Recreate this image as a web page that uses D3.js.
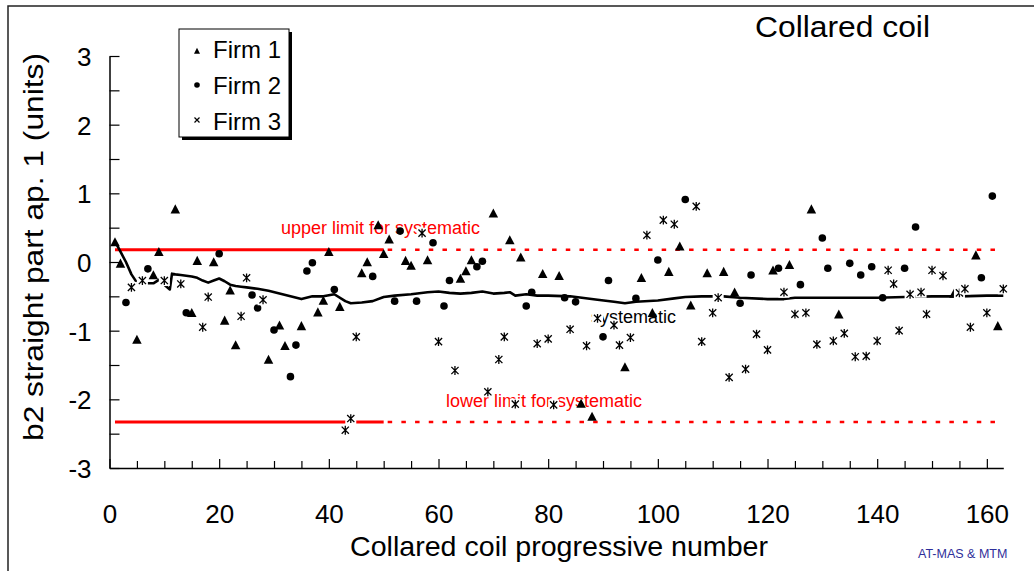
<!DOCTYPE html>
<html><head><meta charset="utf-8">
<script src="https://cdn.jsdelivr.net/npm/d3@7/dist/d3.min.js"></script>
<style>
html,body{margin:0;padding:0;background:#fff;}
svg{display:block;font-family:"Liberation Sans",Arial,sans-serif;}
</style></head>
<body><svg id="c" width="1034" height="571"></svg>
<script>
// ---- data ----
const firm1Coils = [1,2,5,8,9,12,15,16,19,21,22,23,29,31,32,35,38,39,40,42,46,47,49,50,51,54,55,58,64,65,66,70,73,75,79,82,86,88,94,97,99,102,104,106,109,112,114,121,124,128,133,154,158,162];
const firm1Values = [0.29,-0.02,-1.13,-0.19,0.15,0.77,-0.74,0.02,0.0,-0.85,-0.41,-1.21,-1.42,-0.92,-1.22,-0.93,-0.73,-0.56,0.15,-0.65,-0.16,0.0,0.54,0.12,0.33,0.02,-0.05,0.03,-0.24,-0.13,0.03,0.71,0.32,0.07,-0.17,-0.2,-2.06,-2.25,-1.53,-0.23,-0.74,-0.14,0.23,-0.63,-0.16,-0.14,-0.44,-0.12,-0.04,0.77,-0.76,-0.46,0.1,-0.93];
const firm2Coils = [3,7,14,20,26,27,30,33,34,36,37,41,48,52,53,56,59,61,62,67,68,76,77,83,85,90,91,96,100,105,115,117,122,126,130,131,135,137,139,141,145,147,159,161];
const firm2Values = [-0.59,-0.1,-0.74,0.12,-0.48,-0.67,-0.99,-1.67,-1.21,-0.13,-0.01,-0.4,-0.21,-0.57,0.45,-0.57,0.28,-0.64,-0.27,-0.07,0.01,-0.64,-0.44,-0.52,-0.58,-1.09,-0.27,-0.53,0.03,0.91,-0.6,-0.19,-0.09,-0.33,0.35,-0.09,-0.02,-0.19,-0.07,-0.52,-0.09,0.51,-0.23,0.96];
const firm3Coils = [4,6,10,13,17,18,24,25,28,43,44,45,57,60,63,69,71,72,74,78,80,81,84,87,89,92,93,95,98,101,103,107,108,110,111,113,116,118,120,123,125,127,129,132,134,136,138,140,142,143,144,146,148,149,150,152,155,156,157,160,163];
const firm3Values = [-0.37,-0.27,-0.27,-0.32,-0.95,-0.51,-0.79,-0.23,-0.55,-2.45,-2.28,-1.09,0.42,-1.16,-1.58,-1.89,-1.42,-1.09,-2.07,-1.19,-1.12,-2.08,-0.98,-1.22,-0.82,-0.92,-1.21,-1.1,0.39,0.61,0.55,0.81,-1.16,-0.74,-0.52,-1.68,-1.56,-1.05,-1.28,-0.44,-0.76,-0.74,-1.2,-1.15,-1.04,-1.38,-1.37,-1.15,-0.12,-0.32,-1.0,-0.47,-0.44,-0.76,-0.12,-0.2,-0.45,-0.39,-0.95,-0.74,-0.39];
const systematicX = [1,2,3,4,5,6,7,8,9,10,11,11.4,12,13,14,15,16,17,18,19,20,21,22,23,24,25,27,29,31,33,35,37,39,41,43,44,46,48,50,52,55,58,60,62,64,66,68,70,72,73,74,76,78,80,84,89,92,94,96,100,103,105,108,110,112,115,120,123,125,130,135,140,145,150,155,160,163];
const systematicY = [0.3,0.15,0.0,-0.18,-0.3,-0.31,-0.31,-0.31,-0.26,-0.33,-0.4,-0.17,-0.18,-0.19,-0.2,-0.21,-0.23,-0.27,-0.3,-0.27,-0.24,-0.28,-0.33,-0.35,-0.36,-0.37,-0.39,-0.42,-0.46,-0.5,-0.54,-0.5,-0.5,-0.47,-0.57,-0.6,-0.59,-0.57,-0.51,-0.49,-0.47,-0.44,-0.43,-0.45,-0.46,-0.45,-0.43,-0.46,-0.45,-0.44,-0.49,-0.47,-0.49,-0.49,-0.5,-0.55,-0.58,-0.6,-0.58,-0.56,-0.53,-0.51,-0.5,-0.5,-0.5,-0.52,-0.54,-0.54,-0.52,-0.52,-0.52,-0.52,-0.51,-0.5,-0.5,-0.49,-0.49];
const upperLimit = 0.18, lowerLimit = -2.33;
const solidRange = [1, 50], dashedRange = [50, 163];
const xTicks = [0,20,40,60,80,100,120,140,160];
const yTicks = [-3,-2,-1,0,1,2,3];
const seriesNames = ["Firm 1","Firm 2","Firm 3"];

// ---- chart ----
const svg = d3.select("#c");
const x = d3.scaleLinear().domain([0,163]).range([109.5,1003.3]);
const y = d3.scaleLinear().domain([-3,3]).range([468,56]);
const font = '"Liberation Sans",Arial,sans-serif';

// outer frame
svg.append("path").attr("d","M8,580 L8,6 L1040,6").attr("fill","none").attr("stroke","#222").attr("stroke-width",1.5);

// axes
const gx = svg.append("g").attr("transform","translate(0,468)");
gx.call(d3.axisBottom(x).tickValues(d3.range(0,161,5)).tickSize(0).tickFormat(""));
gx.select(".domain").attr("stroke","#000").attr("stroke-width",1.5);
gx.selectAll(".tick line").remove();
gx.selectAll(".tick").append("line").attr("y1",0).attr("y2",d=>d%20===0?-9:-7).attr("stroke","#000").attr("stroke-width",1.2);
gx.selectAll(".tick").filter(d=>xTicks.includes(d)).append("text")
  .attr("y",55).attr("fill","#000").attr("font-size",26).attr("font-family",font).attr("text-anchor","middle").text(d=>d);

const gy = svg.append("g").attr("transform","translate(109.5,0)");
gy.call(d3.axisLeft(y).tickValues(d3.range(-3,3.01,0.5)).tickSize(0).tickFormat(""));
gy.select(".domain").attr("stroke","#000").attr("stroke-width",1.5);
gy.selectAll(".tick line").remove();
gy.selectAll(".tick").append("line").attr("x1",0).attr("x2",10).attr("stroke","#000").attr("stroke-width",1.2);
gy.selectAll(".tick").filter(d=>yTicks.includes(d)).append("text")
  .attr("x",-18).attr("dy","0.36em").attr("fill","#000").attr("font-size",26).attr("font-family",font).attr("text-anchor","end").text(d=>d);

// titles
svg.append("text").attr("x",350).attr("y",556).attr("font-size",27.5).attr("textLength",418).attr("lengthAdjust","spacingAndGlyphs").attr("fill","#000").text("Collared coil progressive number");
svg.append("text").attr("transform","translate(43,441) rotate(-90)").attr("font-size",27).attr("textLength",388).attr("lengthAdjust","spacingAndGlyphs").attr("fill","#000").text("b2 straight part ap. 1 (units)");
svg.append("text").attr("x",755).attr("y",37).attr("font-size",30).attr("textLength",175).attr("lengthAdjust","spacingAndGlyphs").attr("fill","#000").text("Collared coil");
svg.append("text").attr("x",918).attr("y",558).attr("font-size",12.5).attr("fill","#2e2e9a").text("AT-MAS & MTM");

// limit lines
const red = "#ff0000";
[upperLimit, lowerLimit].forEach(v=>{
  svg.append("line").attr("x1",x(solidRange[0])).attr("x2",x(solidRange[1])).attr("y1",y(v)).attr("y2",y(v)).attr("stroke",red).attr("stroke-width",3);
  svg.append("line").attr("x1",x(dashedRange[0])).attr("x2",x(dashedRange[1])).attr("y1",y(v)).attr("y2",y(v)).attr("stroke",red).attr("stroke-width",2.5).attr("stroke-dasharray","4.5,9.2").attr("stroke-dashoffset",-4);
});
svg.append("text").attr("x",281).attr("y",234).attr("font-size",18).attr("fill",red).text("upper limit for systematic");
svg.append("text").attr("x",446).attr("y",407).attr("font-size",18).attr("fill",red).text("lower limit for systematic");

// systematic line
const sysData = systematicX.map((d,i)=>[d,systematicY[i]]);
svg.append("path").datum(sysData).attr("fill","none").attr("stroke","#000").attr("stroke-width",2.6).attr("stroke-linejoin","round")
  .attr("d",d3.line().x(d=>x(d[0])).y(d=>y(d[1])));
svg.append("text").attr("x",591).attr("y",323).attr("font-size",18).attr("fill","#000").text("systematic");

// markers
function triPath(w){ const h=w*0.9; return `M0,${-h/2-0.5}L${w/2},${h/2}L${-w/2},${h/2}Z`; }
function starPath(s){ return `M${-s},${-s}L${s},${s}M${-s},${s}L${s},${-s}M0,${-s-0.8}L0,${s+0.8}`; }

const f1 = firm1Coils.map((c,i)=>[c,firm1Values[i]]);
const f2 = firm2Coils.map((c,i)=>[c,firm2Values[i]]);
const f3 = firm3Coils.map((c,i)=>[c,firm3Values[i]]);

svg.append("g").selectAll("path").data(f1).join("path")
  .attr("transform",d=>`translate(${x(d[0])},${y(d[1])})`).attr("d",triPath(9.5)).attr("fill","#000");
svg.append("g").selectAll("circle").data(f2).join("circle")
  .attr("cx",d=>x(d[0])).attr("cy",d=>y(d[1])).attr("r",3.8).attr("fill","#000");
const g3 = svg.append("g").selectAll("g").data(f3).join("g").attr("transform",d=>`translate(${x(d[0])},${y(d[1])})`);
g3.append("rect").attr("x",-5.5).attr("y",-5.5).attr("width",11).attr("height",11).attr("fill","#fff");
g3.append("path").attr("d",starPath(3.6)).attr("stroke","#000").attr("stroke-width",1.3).attr("fill","none");

// legend
svg.append("rect").attr("x",182).attr("y",32).attr("width",110).attr("height",108).attr("fill","#000");
svg.append("rect").attr("x",179).attr("y",29).attr("width",110).attr("height",108).attr("fill","#fff").attr("stroke","#000").attr("stroke-width",1);
const ly = [51,85,120], lb = [57.5,93.5,129.5];
seriesNames.forEach((n,i)=>{
  svg.append("text").attr("x",213).attr("y",lb[i]).attr("font-size",24).attr("fill","#000").text(n);
});
svg.append("path").attr("transform",`translate(197,${ly[0]})`).attr("d",triPath(6)).attr("fill","#000");
svg.append("circle").attr("cx",197).attr("cy",ly[1]).attr("r",2.8).attr("fill","#000");
svg.append("path").attr("transform",`translate(197,${ly[2]})`).attr("d",`M-2.5,-2.5L2.5,2.5M-2.5,2.5L2.5,-2.5`).attr("stroke","#000").attr("stroke-width",1.2);
</script></body></html>
